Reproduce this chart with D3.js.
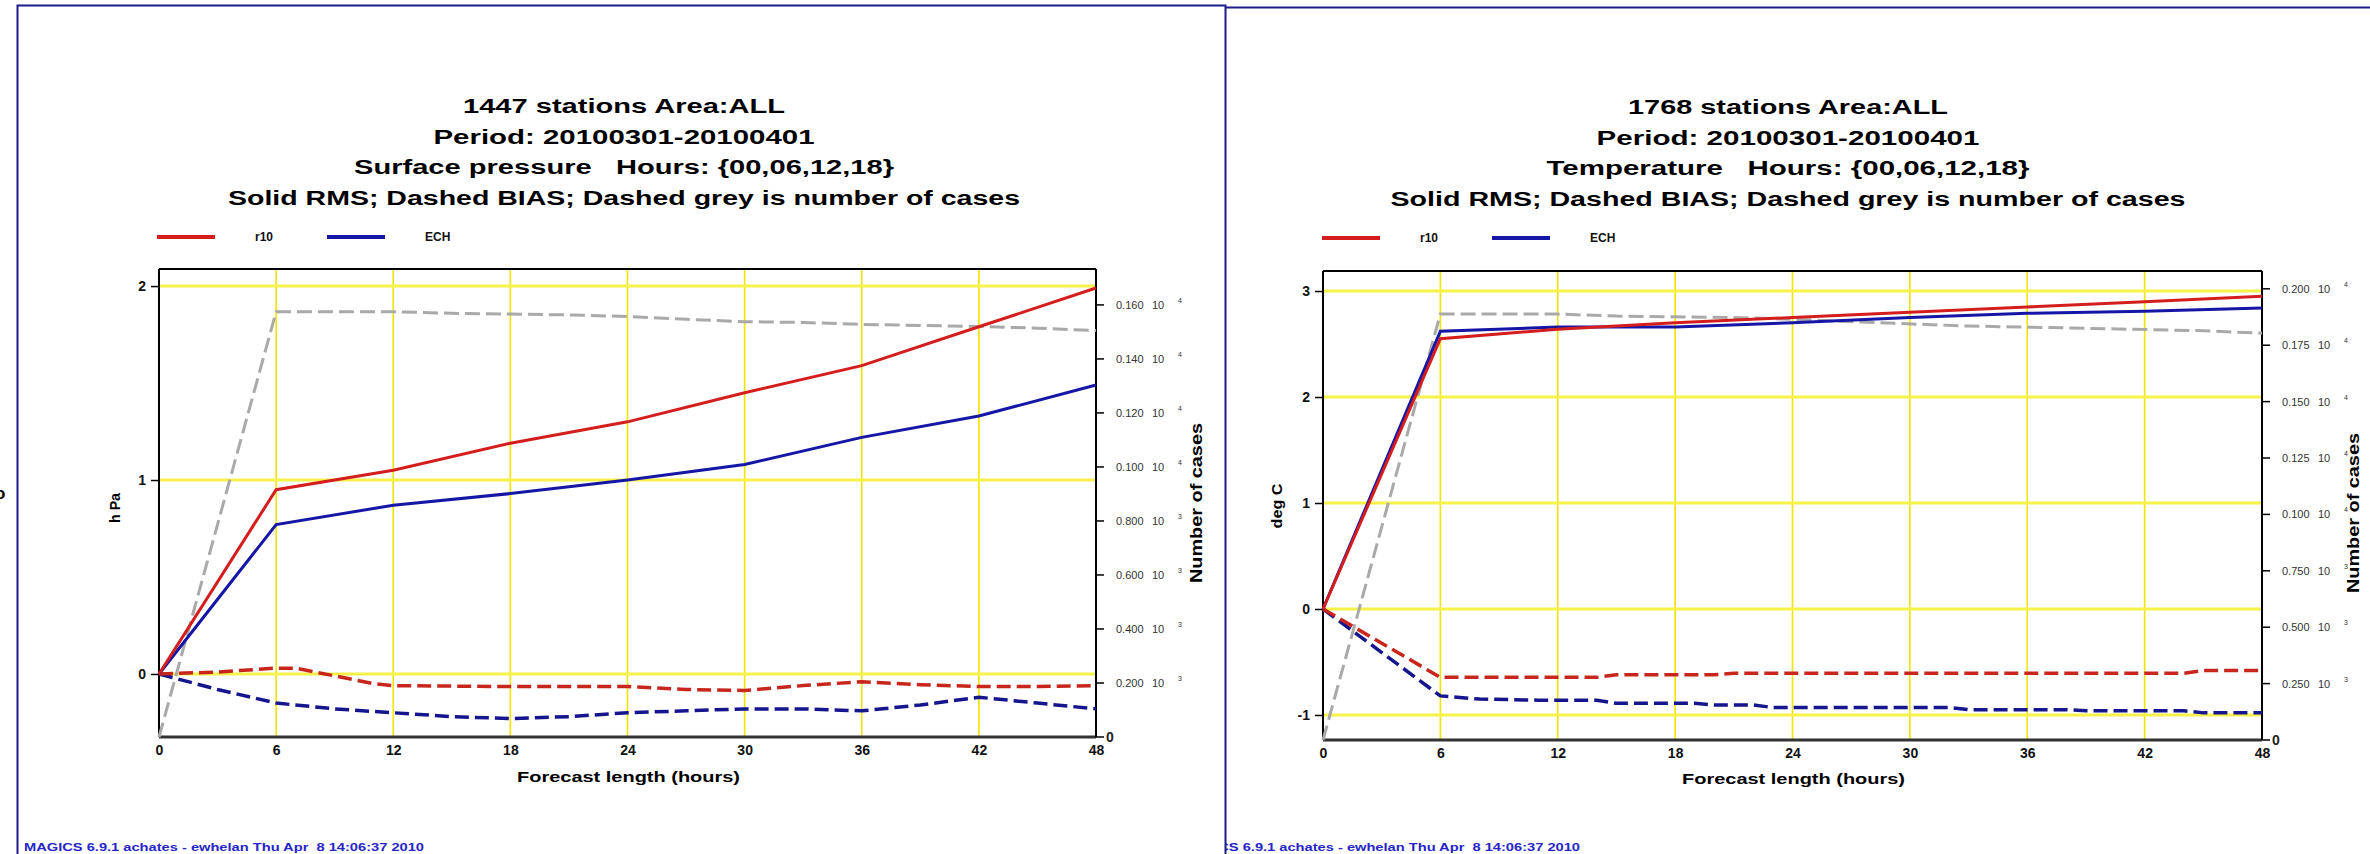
<!DOCTYPE html>
<html><head><meta charset="utf-8">
<script src="https://cdn.jsdelivr.net/npm/d3@7"></script>
<style>html,body{margin:0;padding:0;background:#fff;}svg{display:block;}</style>
</head><body>
<svg id="chart" width="2370" height="854"></svg>
<script>
// ---------------- DATA ----------------
const rmsHours = [0, 6, 12, 18, 24, 30, 36, 42, 48];
const xTicks = [0, 6, 12, 18, 24, 30, 36, 42, 48];

// Surface pressure panel
const psTitle = ["1447 stations Area:ALL", "Period: 20100301-20100401",
  "Surface pressure   Hours: {00,06,12,18}", "Solid RMS; Dashed BIAS; Dashed grey is number of cases"];
const psUnit = "h Pa";
const psYTicks = [0, 1, 2];
const psCaseTicks = [0, 200, 400, 600, 800, 1000, 1200, 1400, 1600];
const psRmsR10 = [0, 0.95, 1.05, 1.19, 1.30, 1.45, 1.59, 1.79, 1.99];
const psRmsECH = [0, 0.77, 0.87, 0.93, 1.00, 1.08, 1.22, 1.33, 1.49];
const psBiasR10Hours = [0, 3, 6, 7, 9, 11, 12, 18, 24, 27, 30, 33, 36, 39, 42, 45, 48];
const psBiasR10 = [0, 0.01, 0.03, 0.03, -0.01, -0.05, -0.06, -0.065, -0.065, -0.08, -0.085, -0.06, -0.04, -0.055, -0.065, -0.065, -0.06];
const psBiasECHHours = [0, 3, 6, 9, 12, 15, 18, 21, 24, 27, 30, 33, 36, 39, 42, 45, 48];
const psBiasECH = [0, -0.08, -0.15, -0.18, -0.20, -0.22, -0.23, -0.22, -0.20, -0.19, -0.18, -0.18, -0.19, -0.16, -0.12, -0.15, -0.18];
const psCaseHours = [0, 6, 12, 15, 21, 24, 27, 30, 33, 36, 42, 45, 48];
const psCases = [0, 1575, 1575, 1569, 1563, 1557, 1547, 1538, 1535, 1528, 1520, 1514, 1505];

// Temperature panel
const tTitle = ["1768 stations Area:ALL", "Period: 20100301-20100401",
  "Temperature   Hours: {00,06,12,18}", "Solid RMS; Dashed BIAS; Dashed grey is number of cases"];
const tUnit = "deg C";
const tYTicks = [-1, 0, 1, 2, 3];
const tCaseTicks = [0, 250, 500, 750, 1000, 1250, 1500, 1750, 2000];
const tRmsR10 = [0, 2.55, 2.64, 2.70, 2.75, 2.80, 2.85, 2.90, 2.95];
const tRmsECH = [0, 2.62, 2.66, 2.66, 2.70, 2.75, 2.79, 2.81, 2.84];
const tBiasR10Hours = [0, 6, 14, 15, 20, 21, 44, 45, 48];
const tBiasR10 = [0, -0.645, -0.645, -0.62, -0.62, -0.607, -0.607, -0.58, -0.58];
const tBiasECHHours = [0, 6, 8, 11, 14, 15, 19, 20, 22, 23, 32, 33, 38, 39, 44, 45, 48];
const tBiasECH = [0, -0.82, -0.85, -0.86, -0.86, -0.89, -0.89, -0.905, -0.905, -0.93, -0.93, -0.95, -0.95, -0.96, -0.96, -0.98, -0.98];
const tCaseHours = [0, 6, 12, 15, 21, 24, 27, 33, 39, 45, 48];
const tCases = [0, 1888, 1888, 1879, 1873, 1865, 1854, 1835, 1825, 1814, 1803];

const legendNames = ["r10", "ECH"];
const footer = "MAGICS 6.9.1 achates - ewhelan Thu Apr  8 14:06:37 2010";
const xTitle = "Forecast length (hours)";
const caseTitle = "Number of cases";

// ---------------- LAYOUT ----------------
const svg = d3.select("#chart");
svg.append("rect").attr("width", 2370).attr("height", 854).attr("fill", "#fff");

const C = {
  rms: ["#d41e1e", "#1616a6"],
  bias: ["#c8261c", "#15158e"],
  grey: "#a9a9a9",
  gridH: "#f7f24a",
  gridV: "#f0e400",
  border: "#1c1c8e",
  footer: "#2626c8"
};
const bold = "'Liberation Sans', Arial, sans-serif";
const narrow = "'Liberation Sans Narrow', 'Liberation Sans', Arial, sans-serif";

function supFmt(v) {
  if (v === 0) return null;
  if (v < 1000) return [(v / 1000).toFixed(3), "3"];
  return [(v / 10000).toFixed(3), "4"];
}
const intFmt = d => String(d);

const panels = [
  {
    title: psTitle, titleW: [322, 381, 540, 792], cx: 624, ty: 113,
    unit: psUnit, unitX: 120, unitY: 508, unitLen: 30,
    x0: 159, x1: 1096, y0: 269, y1: 737,
    yDomain: [-0.325, 2.088], cDomain: [0, 1733],
    yTicks: psYTicks, cTicks: psCaseTicks,
    rmsR10: psRmsR10, rmsECH: psRmsECH,
    biasR10H: psBiasR10Hours, biasR10: psBiasR10,
    biasECHH: psBiasECHHours, biasECH: psBiasECH,
    caseH: psCaseHours, cases: psCases,
    legX: 157, legY: 237, caseX: 1202, caseY: 503, xTitleY: 782,
    footX: 24
  },
  {
    title: tTitle, titleW: [320, 383, 483, 795], cx: 1788, ty: 114,
    unit: tUnit, unitX: 1282, unitY: 506, unitLen: 45,
    x0: 1323, x1: 2262, y0: 271, y1: 740,
    yDomain: [-1.236, 3.189], cDomain: [0, 2079],
    yTicks: tYTicks, cTicks: tCaseTicks,
    rmsR10: tRmsR10, rmsECH: tRmsECH,
    biasR10H: tBiasR10Hours, biasR10: tBiasR10,
    biasECHH: tBiasECHHours, biasECH: tBiasECH,
    caseH: tCaseHours, cases: tCases,
    legX: 1322, legY: 238, caseX: 2359, caseY: 513, xTitleY: 784,
    footX: 1180
  }
];

// footer clip for right panel
const defs = svg.append("defs");
defs.append("clipPath").attr("id", "clipR").append("rect")
  .attr("x", 1226).attr("y", 0).attr("width", 1200).attr("height", 854);

// cut-off glyph at far left edge (as in the reference)
svg.append("text").attr("x", -5).attr("y", 499).attr("font-family", bold)
  .attr("font-weight", "bold").attr("font-size", 17).attr("fill", "#000").text("o");

panels.forEach((p, pi) => {
  const g = svg.append("g");
  const x = d3.scaleLinear().domain([0, 48]).range([p.x0, p.x1]);
  const y = d3.scaleLinear().domain(p.yDomain).range([p.y1, p.y0]);
  const yc = d3.scaleLinear().domain(p.cDomain).range([p.y1, p.y0]);

  // titles
  p.title.forEach((t, i) => {
    g.append("text").attr("x", p.cx).attr("y", p.ty + i * 30.5)
      .attr("text-anchor", "middle").attr("font-family", bold).attr("font-weight", "bold")
      .attr("font-size", 20).attr("fill", "#000")
      .attr("textLength", p.titleW[i]).attr("lengthAdjust", "spacingAndGlyphs")
      .style("white-space", "pre").text(t);
  });

  // legend
  legendNames.forEach((n, i) => {
    const lx = p.legX + i * 170;
    g.append("line").attr("x1", lx).attr("x2", lx + 58).attr("y1", p.legY).attr("y2", p.legY)
      .attr("stroke", C.rms[i]).attr("stroke-width", 4);
    g.append("text").attr("x", lx + 98).attr("y", p.legY + 4)
      .attr("font-family", narrow).attr("font-weight", "bold").attr("font-size", 12)
      .attr("fill", "#111").text(n);
  });

  // grid
  g.selectAll(null).data(xTicks.filter(d => d > 0 && d < 48)).enter().append("line")
    .attr("x1", d => x(d)).attr("x2", d => x(d)).attr("y1", p.y0).attr("y2", p.y1)
    .attr("stroke", C.gridV).attr("stroke-width", 1.6);
  g.selectAll(null).data(p.yTicks).enter().append("line")
    .attr("x1", p.x0).attr("x2", p.x1).attr("y1", d => y(d)).attr("y2", d => y(d))
    .attr("stroke", C.gridH).attr("stroke-width", 3);

  // frame
  g.append("line").attr("x1", p.x0).attr("x2", p.x1).attr("y1", p.y0).attr("y2", p.y0)
    .attr("stroke", "#000").attr("stroke-width", 2);
  g.append("line").attr("x1", p.x0).attr("x2", p.x1).attr("y1", p.y1).attr("y2", p.y1)
    .attr("stroke", "#333").attr("stroke-width", 3);

  // left axis
  const yAxis = d3.axisLeft(y).tickValues(p.yTicks).tickSize(8).tickPadding(5)
    .tickFormat(intFmt);
  const ya = g.append("g").attr("transform", `translate(${p.x0},0)`).call(yAxis);
  ya.select(".domain").attr("d", `M0,${p.y0}V${p.y1}`).attr("stroke", "#000").attr("stroke-width", 2);
  ya.selectAll(".tick line").attr("stroke", "#000").attr("stroke-width", 1.5);
  ya.selectAll("text").attr("font-family", narrow).attr("font-weight", "bold")
    .attr("font-size", 14).attr("fill", "#111");

  // right axis (cases)
  const ra = g.append("g").attr("transform", `translate(${p.x1},0)`);
  ra.append("line").attr("x1", 0).attr("x2", 0).attr("y1", p.y0).attr("y2", p.y1)
    .attr("stroke", "#000").attr("stroke-width", 2);
  p.cTicks.forEach(v => {
    const yy = yc(v);
    ra.append("line").attr("x1", 0).attr("x2", 8).attr("y1", yy).attr("y2", yy)
      .attr("stroke", "#000").attr("stroke-width", 1.5);
    const f = supFmt(v);
    if (!f) {
      ra.append("text").attr("x", 10).attr("y", yy + 5).attr("font-family", narrow)
        .attr("font-weight", "bold").attr("font-size", 14).attr("fill", "#222").text("0");
    } else {
      const t = ra.append("text").attr("x", 20).attr("y", yy + 4).attr("font-family", bold)
        .attr("font-size", 11).attr("fill", "#333").style("white-space", "pre");
      t.append("tspan").text(f[0]);
      t.append("tspan").attr("x", 56).text("10");
      t.append("tspan").attr("x", 82).attr("dy", -6).attr("font-size", 7).text(f[1]);
    }
  });

  // x axis labels
  const xAxis = d3.axisBottom(x).tickValues(xTicks).tickSize(0).tickPadding(8)
    .tickFormat(intFmt);
  const xa = g.append("g").attr("transform", `translate(0,${p.y1})`).call(xAxis);
  xa.select(".domain").remove();
  xa.selectAll("text").attr("font-family", narrow).attr("font-weight", "bold")
    .attr("font-size", 14).attr("fill", "#111");

  // axis titles
  g.append("text").attr("x", (p.x0 + p.x1) / 2 + 1).attr("y", p.xTitleY)
    .attr("text-anchor", "middle").attr("font-family", bold).attr("font-weight", "bold")
    .attr("font-size", 15).attr("fill", "#000").attr("textLength", 223)
    .attr("lengthAdjust", "spacingAndGlyphs").text(xTitle);
  g.append("text").attr("transform", `translate(${p.unitX},${p.unitY}) rotate(-90)`)
    .attr("text-anchor", "middle").attr("font-family", bold).attr("font-weight", "bold")
    .attr("font-size", 14).attr("fill", "#000").attr("textLength", p.unitLen)
    .attr("lengthAdjust", "spacingAndGlyphs").text(p.unit);
  g.append("text").attr("transform", `translate(${p.caseX},${p.caseY}) rotate(-90)`)
    .attr("text-anchor", "middle").attr("font-family", bold).attr("font-weight", "bold")
    .attr("font-size", 16).attr("fill", "#000").attr("textLength", 160)
    .attr("lengthAdjust", "spacingAndGlyphs").text(caseTitle);

  // series
  const lineY = d3.line().x(d => x(d[0])).y(d => y(d[1]));
  const lineC = d3.line().x(d => x(d[0])).y(d => yc(d[1]));
  const zip = (a, b) => a.map((h, i) => [h, b[i]]);

  g.append("path").attr("d", lineC(zip(p.caseH, p.cases))).attr("fill", "none")
    .attr("stroke", C.grey).attr("stroke-width", 3).attr("stroke-dasharray", "15,6");
  g.append("path").attr("d", lineY(zip(p.biasECHH, p.biasECH))).attr("fill", "none")
    .attr("stroke", C.bias[1]).attr("stroke-width", 3.5).attr("stroke-dasharray", "14,6");
  g.append("path").attr("d", lineY(zip(p.biasR10H, p.biasR10))).attr("fill", "none")
    .attr("stroke", C.bias[0]).attr("stroke-width", 3.5).attr("stroke-dasharray", "14,6");
  g.append("path").attr("d", lineY(zip(rmsHours, p.rmsECH))).attr("fill", "none")
    .attr("stroke", C.rms[1]).attr("stroke-width", 3);
  g.append("path").attr("d", lineY(zip(rmsHours, p.rmsR10))).attr("fill", "none")
    .attr("stroke", C.rms[0]).attr("stroke-width", 3);

  // footer
  const ft = g.append("text").attr("x", p.footX).attr("y", 851)
    .attr("font-family", bold).attr("font-weight", "bold").attr("font-size", 11)
    .attr("fill", C.footer).attr("textLength", 400).attr("lengthAdjust", "spacingAndGlyphs")
    .style("white-space", "pre").text(footer);
  if (pi === 1) ft.attr("clip-path", "url(#clipR)");
});

// panel borders
svg.append("path").attr("d", "M17.5,854V5.5H1225.5V854").attr("fill", "none")
  .attr("stroke", C.border).attr("stroke-width", 2);
svg.append("path").attr("d", "M1225.5,7.5H2370").attr("fill", "none")
  .attr("stroke", C.border).attr("stroke-width", 2);
</script>
</body></html>
